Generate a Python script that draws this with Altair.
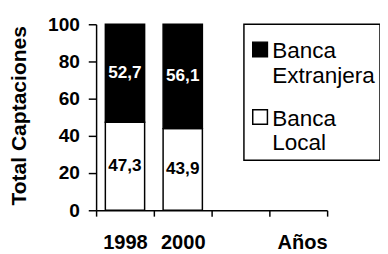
import altair as alt
import pandas as pd

# ---- data ----
years = ["1998", "2000"]
extranjera = [52.7, 56.1]
local = [47.3, 43.9]
x_domain = ["1998", "2000", " ", "  "]   # two empty slots on the axis
series = ["Banca Extranjera", "Banca Local"]
colors = ["black", "white"]
y_ticks = [0, 20, 40, 60, 80, 100]

rows = []
for i, yr in enumerate(years):
    rows.append({"year": yr, "serie": "Banca Local", "value": local[i], "ord": 0})
    rows.append({"year": yr, "serie": "Banca Extranjera", "value": extranjera[i], "ord": 1})
df = pd.DataFrame(rows)

FONT = "Liberation Sans"

base = alt.Chart(df).transform_stack(
    stack="value", groupby=["year"], as_=["v0", "v1"],
    sort=[alt.SortField("ord", order="ascending")]
).transform_calculate(
    mid="(datum.v0 + datum.v1) / 2",
    lab="replace(format(datum.value, '.1f'), '.', ',')"
)

xscale = alt.Scale(domain=x_domain, paddingInner=0, paddingOuter=0)
yscale = alt.Scale(domain=[0, 100], nice=False)

xaxis = alt.Axis(title="Años", tickBand="extent", labelAngle=0,
                 labelFont=FONT, labelFontSize=20.5, labelFontWeight="bold",
                 labelColor="black", labelBaseline="alphabetic", labelPadding=33,
                 labelOverlap=False,
                 tickSize=6, tickColor="black", tickWidth=1.5,
                 domainColor="black", domainWidth=1.5,
                 titleFont=FONT, titleFontSize=20.5, titleFontWeight="bold",
                 titleColor="black", titleX=236, titleY=39,
                 titleAlign="right", titleBaseline="alphabetic")

yaxis = alt.Axis(title="Total Captaciones", values=y_ticks, tickCount=6, grid=False,
                 labelFont=FONT, labelFontSize=19.5, labelFontWeight="bold",
                 labelColor="black", labelPadding=9, labelOverlap=False,
                 tickSize=8, tickColor="black", tickWidth=1.5,
                 domainColor="black", domainWidth=1.5,
                 titleFont=FONT, titleFontSize=21.5, titleFontWeight="bold",
                 titleColor="black", titleX=-78, titleY=93,
                 titleAngle=270, titleAlign="center", titleBaseline="middle")

# square symbol shifted down so it lines up with the first text line
SQUARE_DOWN = "M-1,0.23H1V2.23H-1Z"

bars = base.mark_bar(stroke="black", strokeWidth=1.5, width=alt.RelativeBandSize(0.68)).encode(
    x=alt.X("year:N", scale=xscale, axis=xaxis),
    y=alt.Y("v0:Q", scale=yscale, axis=yaxis),
    y2="v1:Q",
    color=alt.Color("serie:N", scale=alt.Scale(domain=series, range=colors),
                    legend=alt.Legend(title=None, orient="none", legendX=151, legendY=0,
                                      labelExpr="split(datum.label, ' ')",
                                      labelFont=FONT, labelFontSize=23, labelColor="black",
                                      labelBaseline="top", labelOffset=1,
                                      symbolType=SQUARE_DOWN, symbolSize=225,
                                      symbolStrokeColor="black", symbolStrokeWidth=1.5,
                                      padding=5, rowPadding=9, fillColor="white",
                                      strokeColor="black")),
    order=alt.Order("ord:Q")
)

labels = base.mark_text(font=FONT, fontSize=17.5, fontWeight="bold").encode(
    x=alt.X("year:N", scale=xscale, axis=xaxis),
    y=alt.Y("mid:Q", scale=yscale, axis=yaxis),
    text="lab:N",
    color=alt.Color("serie:N", scale=alt.Scale(domain=series, range=["white", "black"]), legend=None)
)

chart = alt.layer(bars, labels).resolve_scale(color="independent").properties(
    width=236, height=190,
    autosize=alt.AutoSizeParams(type="none"),
    padding={"left": 90, "top": 14, "right": 54, "bottom": 40}
).configure_view(stroke=None).configure_legend(strokeWidth=1.5)

chart.save("out.html", embed_options={"renderer": "svg", "actions": False})
